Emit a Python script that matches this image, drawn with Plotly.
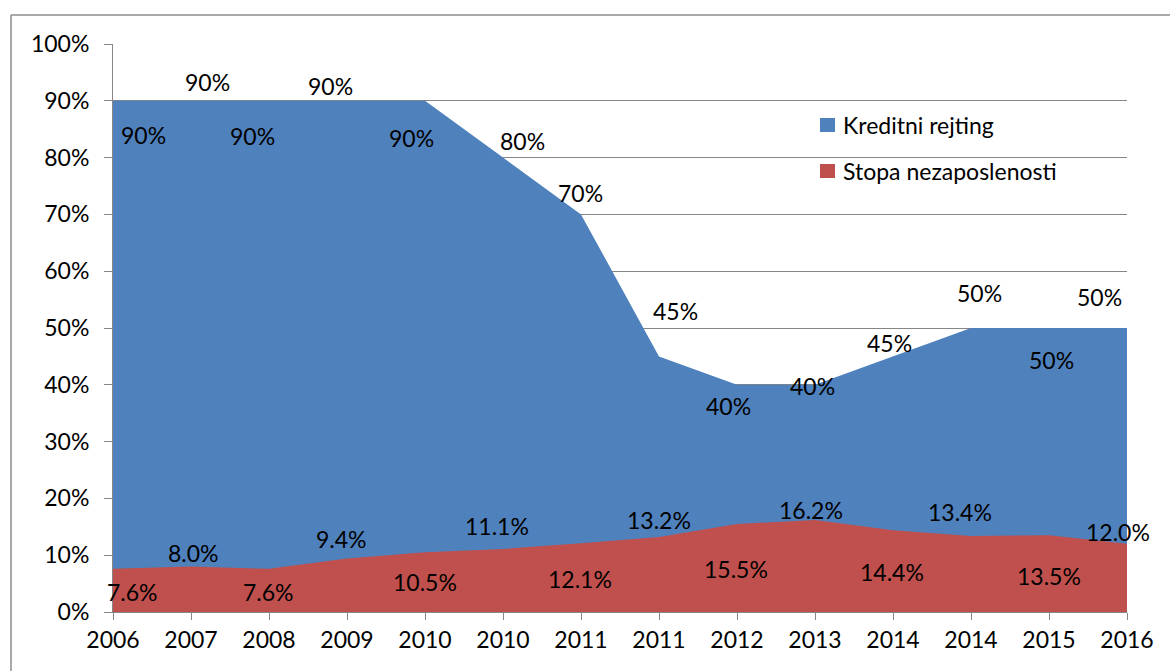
import plotly.graph_objects as go

# ---- data ----
categories = ["2006", "2007", "2008", "2009", "2010", "2010", "2011",
              "2011", "2012", "2013", "2014", "2014", "2015", "2016"]
kreditni_rejting = [90, 90, 90, 90, 90, 80, 70, 45, 40, 40, 45, 50, 50, 50]
stopa_nezaposlenosti = [7.6, 8.0, 7.6, 9.4, 10.5, 11.1, 12.1, 13.2, 15.5,
                        16.2, 14.4, 13.4, 13.5, 12.0]
y_ticks = [0, 10, 20, 30, 40, 50, 60, 70, 80, 90, 100]

# ---- label placement (pixel offsets from each point; +dy = downwards) ----
blue_dx = [30, 16, -17, -17, -14, 19, -1, 16, -9, -3, -4, 8, 2, -28]
blue_dy = [34, -19, 35, -15, 37, -17, -21, -45, 21, 1, -13, -35, 32, -31]
red_dx = [19, 2, -1, -6, 0, -6, -1, 0, -1, -4, -1, -11, 0, -9]
red_dy = [23, -14, 23, -20, 30, -23, 36, -17, 45, -10, 42, -24, 41, -12]

BLUE = "#4F81BD"
RED = "#C0504D"
GRID = "#868686"
FONT = "Lato"
FS = 23

x = list(range(len(categories)))

fig = go.Figure()
fig.add_trace(go.Scatter(x=x, y=kreditni_rejting, name="Kreditni rejting",
                         mode="lines", fill="tozeroy", fillcolor=BLUE,
                         line=dict(width=0, color=BLUE), showlegend=False,
                         hoverinfo="skip"))
fig.add_trace(go.Scatter(x=x, y=stopa_nezaposlenosti, name="Stopa nezaposlenosti",
                         mode="lines", fill="tozeroy", fillcolor=RED,
                         line=dict(width=0, color=RED), showlegend=False,
                         hoverinfo="skip"))

annotations = []
for i, v in enumerate(kreditni_rejting):
    annotations.append(dict(x=i, y=v, xref="x", yref="y", text=f"{v:.0f}%",
                            showarrow=False, xshift=blue_dx[i], yshift=-blue_dy[i],
                            font=dict(family=FONT, size=FS, color="black")))
for i, v in enumerate(stopa_nezaposlenosti):
    annotations.append(dict(x=i, y=v, xref="x", yref="y", text=f"{v:.1f}%",
                            showarrow=False, xshift=red_dx[i], yshift=-red_dy[i],
                            font=dict(family=FONT, size=FS, color="black")))

# manual legend
W, H = 1014.0, 568.0  # plot area size in px
def px2paper(px, py):
    return (px - 113) / W, (612 - py) / H

shapes = []
legend_items = [("Kreditni rejting", BLUE, 125), ("Stopa nezaposlenosti", RED, 171)]
for name, col, cy in legend_items:
    x0, y0 = px2paper(820, cy - 7)
    x1, y1 = px2paper(835, cy + 7)
    shapes.append(dict(type="rect", xref="paper", yref="paper", x0=x0, x1=x1,
                       y0=y1, y1=y0, fillcolor=col, line=dict(width=0)))
    tx, ty = px2paper(841, cy)
    annotations.append(dict(x=tx, y=ty, xref="paper", yref="paper", text=name,
                            showarrow=False, xanchor="left", yanchor="middle",
                            font=dict(family=FONT, size=FS, color="black")))

# chart border (top and left visible)
bx0, by0 = px2paper(11, 15)
bx1, _ = px2paper(1175, 15)
_, by1 = px2paper(11, 680)
shapes.append(dict(type="line", xref="paper", yref="paper", x0=bx0, x1=bx1,
                   y0=by0, y1=by0, line=dict(color="#8C8C8C", width=1.5)))
shapes.append(dict(type="line", xref="paper", yref="paper", x0=bx0, x1=bx0,
                   y0=by0, y1=by1, line=dict(color="#8C8C8C", width=1.5)))

fig.update_layout(
    width=1170, height=671,
    margin=dict(l=113, r=43, t=44, b=59),
    paper_bgcolor="white", plot_bgcolor="white",
    font=dict(family=FONT, size=FS, color="black"),
    annotations=annotations, shapes=shapes,
    showlegend=False,
)
fig.update_xaxes(range=[0, len(categories) - 1], tickmode="array", tickvals=x,
                 ticktext=categories, showgrid=False, zeroline=False,
                 showline=True, linecolor=GRID, linewidth=1,
                 ticks="outside", ticklen=7, tickcolor=GRID,
                 tickfont=dict(family=FONT, size=FS, color="black"))
fig.update_yaxes(range=[0, 100], tickmode="array", tickvals=y_ticks,
                 ticktext=[f"{t}%" for t in y_ticks], showgrid=True,
                 gridcolor=GRID, gridwidth=1, zeroline=False,
                 showline=True, linecolor=GRID, linewidth=1,
                 ticks="outside", ticklen=8, tickcolor=GRID,
                 ticklabelstandoff=10,
                 tickfont=dict(family=FONT, size=FS, color="black"))

fig.write_html("out.html",
               config={"displayModeBar": False, "staticPlot": True},
               post_script="document.body.style.margin='0px';"
                           "document.body.style.overflow='hidden';")
